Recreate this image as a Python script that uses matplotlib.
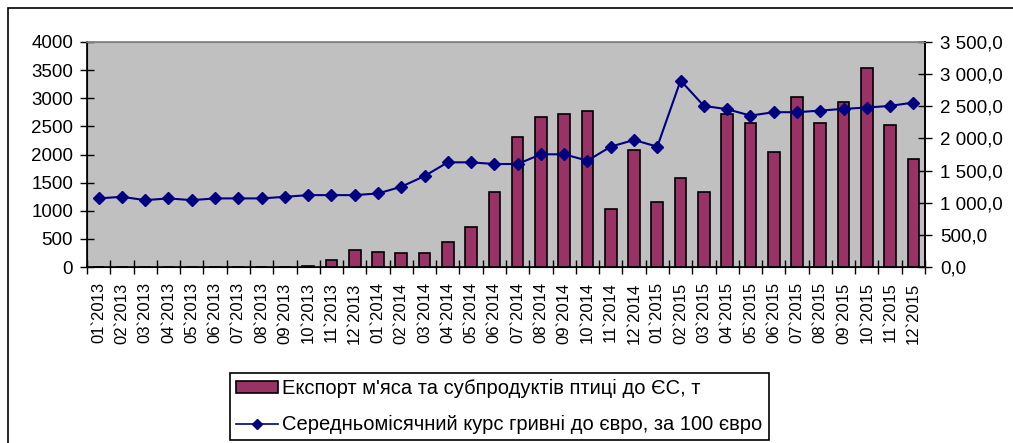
import matplotlib
matplotlib.use("Agg")
import matplotlib.pyplot as plt
from matplotlib.patches import Rectangle, Patch
from matplotlib.lines import Line2D
from matplotlib.ticker import FixedLocator, FuncFormatter
import numpy as np

plt.rcParams['font.family'] = ['Liberation Sans', 'DejaVu Sans']

months = [f"{m:02d}`{y}" for y in (2013, 2014, 2015) for m in range(1, 13)]

export_t = [0, 0, 0, 0, 0, 0, 0, 0, 0, 20, 130, 300,
            275, 245, 245, 440, 715, 1330, 2305, 2665, 2720, 2780, 1025, 2085,
            1160, 1585, 1330, 2720, 2555, 2050, 3030, 2555, 2930, 3530, 2525, 1920]

rate_100eur = [1067, 1092, 1040, 1067, 1040, 1067, 1067, 1067, 1092, 1118, 1118, 1118,
               1144, 1248, 1415, 1628, 1628, 1602, 1602, 1753, 1753, 1654, 1872, 1976,
               1872, 2901, 2506, 2455, 2355, 2408, 2408, 2433, 2460, 2480, 2506, 2558]

label_bar = "Експорт м'яса та субпродуктів птиці до ЄС, т"
label_line = "Середньомісячний курс гривні до євро, за 100 євро"

W, H = 1013, 443
fig = plt.figure(figsize=(W / 100, H / 100), dpi=100)

# outer chart frame
fig.patches.append(Rectangle((8 / W, -0.1), 1.2, (H - 8) / H + 0.1, transform=fig.transFigure,
                             fill=False, edgecolor='black', linewidth=1.2))

ax = fig.add_axes([87 / W, 1 - 267 / H, (925 - 87) / W, (267 - 42) / H])
ax.set_facecolor('#C0C0C0')
x = np.arange(len(months))
ax.bar(x, export_t, width=0.5, color='#993366', edgecolor='black', linewidth=1.2, zorder=2)
ax.set_xlim(-0.5, len(months) - 0.5)
ax.set_ylim(0, 4000)
ax.set_yticks(np.arange(0, 4001, 500))
ax.tick_params(axis='y', direction='inout', length=10, width=1, labelsize=13.5, pad=5)

ax.xaxis.set_major_locator(FixedLocator(np.arange(-0.5, len(months), 1)))
ax.xaxis.set_major_formatter(FuncFormatter(lambda v, p: ""))
ax.xaxis.set_minor_locator(FixedLocator(x))
ax.set_xticks(x, months, minor=True, rotation=90)
ax.tick_params(axis='x', which='major', direction='inout', length=10, width=1)
ax.tick_params(axis='x', which='minor', length=0, labelsize=12, pad=11)

ax.spines['top'].set_color('#808080')
for s in ('top', 'left', 'bottom', 'right'):
    ax.spines[s].set_linewidth(1.2)

ax2 = ax.twinx()
ax2.plot(x, rate_100eur, color='#000080', linewidth=1.5, marker='D', markersize=6.5, zorder=3)
ax2.set_ylim(0, 3500)
ax2.set_yticks(np.arange(0, 3501, 500))
ax2.yaxis.set_major_formatter(FuncFormatter(
    lambda v, p: (f"{int(v):,}".replace(",", " ") + ",0")))
ax2.tick_params(axis='y', direction='inout', length=10, width=1, labelsize=13.5, pad=6)
ax2.spines['right'].set_linewidth(1.2)
ax2.spines['top'].set_color('#808080')
ax2.set_xlim(-0.5, len(months) - 0.5)

handles = [Patch(facecolor='#993366', edgecolor='black', linewidth=1.2),
           Line2D([], [], color='#000080', linewidth=1.2, marker='D', markersize=5)]
leg = fig.legend(handles, [label_bar, label_line],
                 loc='upper left', bbox_to_anchor=(230 / W, 1 - 373 / H),
                 fontsize=14.5, frameon=True, fancybox=False,
                 edgecolor='black', framealpha=1, borderpad=0.3, handlelength=2.1,
                 handleheight=0.5, handletextpad=0.2, labelspacing=0.85, borderaxespad=0)
leg.get_frame().set_linewidth(1.2)

fig.savefig("out.png", dpi=100)
